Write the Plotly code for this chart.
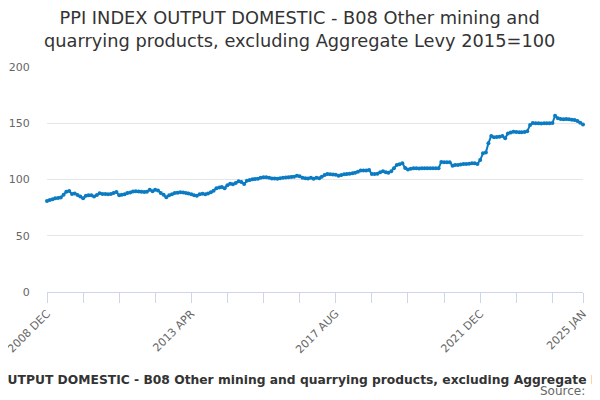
import pandas as pd
import plotly.graph_objects as go

TITLE = ('PPI INDEX OUTPUT DOMESTIC - B08 Other mining and quarrying products, '
         'excluding Aggregate Levy 2015=100')

# monthly index values, 2008 DEC .. 2025 JAN
index_values = [
    81.0, 81.8, 82.4, 83.4, 83.6, 84.0, 86.5, 89.2, 89.8, 87.1, 87.6, 86.2,
    85.0, 83.3, 85.6, 86.0, 86.0, 84.8, 86.3, 87.7, 87.2, 87.1, 87.0, 87.1,
    88.0, 88.9, 85.9, 86.5, 87.0, 88.0, 88.4, 89.3, 89.6, 89.4, 89.2, 89.0,
    89.2, 91.0, 89.6, 91.0, 90.2, 88.0, 86.5, 84.2, 86.0, 86.8, 88.0, 88.2,
    88.6, 88.4, 88.0, 87.5, 86.8, 86.0, 85.6, 86.8, 87.4, 86.8, 87.6, 88.6,
    90.0, 92.2, 92.8, 93.3, 92.2, 94.8, 96.3, 95.7, 97.0, 98.4, 97.8, 96.0,
    98.9, 99.5, 100.2, 100.5, 100.7, 101.5, 101.9, 101.9, 101.5, 101.0, 100.8, 100.7,
    101.2, 101.6, 101.8, 101.9, 102.2, 102.5, 103.4, 102.8, 101.6, 101.2, 101.0, 101.6,
    100.7, 101.6, 101.2, 102.5, 104.0, 104.9, 104.6, 104.4, 104.3, 103.4, 104.0, 104.6,
    105.0, 105.2, 105.6, 106.1, 107.0, 107.9, 107.9, 108.0, 108.4, 104.9, 105.0, 105.2,
    106.5, 107.3, 106.5, 106.1, 107.3, 110.0, 112.9, 113.6, 114.4, 110.2, 109.0, 109.6,
    110.0, 110.0, 109.8, 110.0, 110.0, 110.0, 109.9, 110.0, 110.0, 110.0, 115.6, 115.3,
    115.3, 115.4, 112.3, 112.9, 112.9, 113.3, 113.8, 113.8, 114.0, 114.4, 114.4, 113.8,
    117.3, 123.3, 123.9, 132.2, 138.7, 137.5, 137.8, 138.0, 138.7, 136.6, 141.0, 141.8,
    142.5, 142.2, 142.0, 142.1, 142.2, 143.0, 148.4, 150.3, 150.0, 150.0, 149.8, 150.0,
    150.0, 150.1, 150.2, 156.7, 154.4, 153.8, 153.6, 153.8, 153.6, 153.2, 152.9, 152.0,
    150.4, 149.0,
]
months = pd.date_range('2008-12-01', periods=len(index_values), freq='MS')

label_dates = ['2008-12-01', '2013-04-01', '2017-08-01', '2021-12-01', '2025-01-01']
label_text = ['2008 DEC', '2013 APR', '2017 AUG', '2021 DEC', '2025 JAN']

fig = go.Figure()
fig.add_trace(go.Scatter(
    x=months,
    y=index_values,
    mode='lines+markers',
    line=dict(color='#0b7bc3', width=2),
    marker=dict(size=4, color='#0b7bc3'),
    cliponaxis=False,
    showlegend=False,
))

# page body has an 8px margin, so the figure is drawn 8px in from the corner
fig.update_layout(
    width=600, height=400, autosize=False,
    paper_bgcolor='white', plot_bgcolor='white',
    font=dict(family='DejaVu Sans', color='#666666'),
    margin=dict(l=39, r=25, t=59, b=116, pad=0),
    xaxis=dict(range=[months[0], months[-1]], automargin=False,
               tickvals=label_dates, ticktext=label_text,
               ticklabeloverflow='allow',
               tickangle=-45, tickfont=dict(size=11, color='#666666'),
               ticks='outside', ticklen=10, tickcolor='#ccd6eb',
               showline=True, linecolor='#ccd6eb', showgrid=False,
               minor=dict(tick0='2008-12-01', dtick='M13', ticks='outside',
                          ticklen=10, tickcolor='#ccd6eb', showgrid=False)),
    yaxis=dict(range=[0, 200], tickvals=[0, 50, 100, 150, 200], automargin=False,
               tickfont=dict(size=11, color='#666666'),
               ticks='outside', ticklen=14, tickcolor='rgba(0,0,0,0)',
               gridcolor='#e6e6e6', zeroline=False, showline=False),
    annotations=[
        dict(text='PPI INDEX OUTPUT DOMESTIC - B08 Other mining and<br>'
                  'quarrying products, excluding Aggregate Levy 2015=100',
             xref='paper', yref='paper', x=0.4716, y=1.169,
             xanchor='center', yanchor='middle', showarrow=False,
             font=dict(size=17.8, color='#333333')),
        dict(text='<b>' + TITLE + '</b>', xref='paper', yref='paper',
             x=0.492, y=-0.391, xanchor='center', yanchor='middle', showarrow=False,
             font=dict(size=12.3, color='#333333')),
        dict(text='Source:', xref='paper', yref='paper',
             x=1.008, y=-0.44, xanchor='right', yanchor='middle', showarrow=False,
             font=dict(size=12, color='#666666')),
    ],
)

fig.write_html('out.html')
